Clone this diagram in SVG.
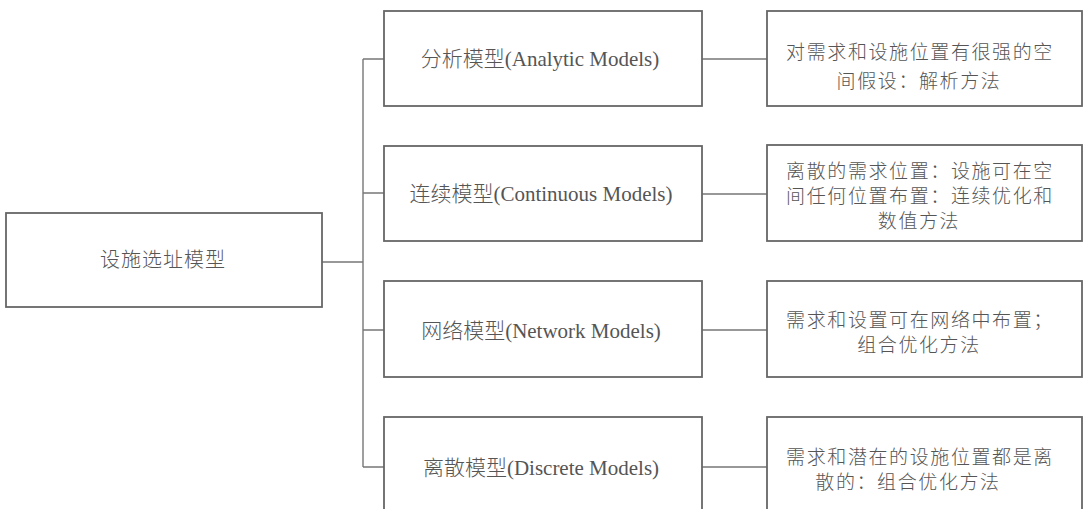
<svg xmlns="http://www.w3.org/2000/svg" width="1087" height="509" viewBox="0 0 1087 509">
<style>
.box{fill:#fff;stroke:#666;stroke-width:1.8}
.ln{fill:none;stroke:#777;stroke-width:1.4}
.t{font-family:"Noto Sans CJK SC",sans-serif;font-weight:300;font-size:19px;letter-spacing:1.6px;fill:#555;text-anchor:middle}
.m{font-family:"Liberation Serif","Noto Sans CJK SC",serif;font-weight:300;font-size:21px;fill:#555;text-anchor:middle}
</style>
<rect width="1087" height="509" fill="#fff"/>
<g id="connectors">
<path class="ln" d="M322 262H363M363 59V467M363 59H384M363 193H384M363 330H384M363 467H384"/>
<path class="ln" d="M702 59H767M702 194H767M702 330H767M702 467H767"/>
</g>
<g id="root">
<rect class="box" x="6" y="213" width="316" height="94"/>
<text class="t" x="163" y="267" style="font-size:20px;letter-spacing:1px">设施选址模型</text>
</g>
<g id="analytic">
<rect class="box" x="384" y="11" width="318" height="95"/>
<text class="m" x="540" y="66">分析模型(Analytic Models)</text>
</g>
<g id="continuous">
<rect class="box" x="384" y="146" width="318" height="95"/>
<text class="m" x="541" y="201">连续模型(Continuous Models)</text>
</g>
<g id="network">
<rect class="box" x="384" y="281" width="318" height="96"/>
<text class="m" x="541" y="338">网络模型(Network Models)</text>
</g>
<g id="discrete">
<rect class="box" x="384" y="417" width="318" height="100"/>
<text class="m" x="541" y="475">离散模型(Discrete Models)</text>
</g>
<g id="analytic-desc">
<rect class="box" x="767" y="11" width="315" height="95"/>
<text class="t" x="920" y="59">对需求和设施位置有很强的空</text>
<text class="t" x="919" y="88">间假设：解析方法</text>
</g>
<g id="continuous-desc">
<rect class="box" x="767" y="145" width="315" height="96"/>
<text class="t" x="920" y="178">离散的需求位置：设施可在空</text>
<text class="t" x="920" y="203">间任何位置布置：连续优化和</text>
<text class="t" x="919" y="228">数值方法</text>
</g>
<g id="network-desc">
<rect class="box" x="767" y="281" width="315" height="96"/>
<text class="t" x="920" y="327">需求和设置可在网络中布置；</text>
<text class="t" x="919" y="352">组合优化方法</text>
</g>
<g id="discrete-desc">
<rect class="box" x="767" y="417" width="315" height="100"/>
<text class="t" x="920" y="464">需求和潜在的设施位置都是离</text>
<text class="t" x="908" y="489">散的：组合优化方法</text>
</g>
</svg>
